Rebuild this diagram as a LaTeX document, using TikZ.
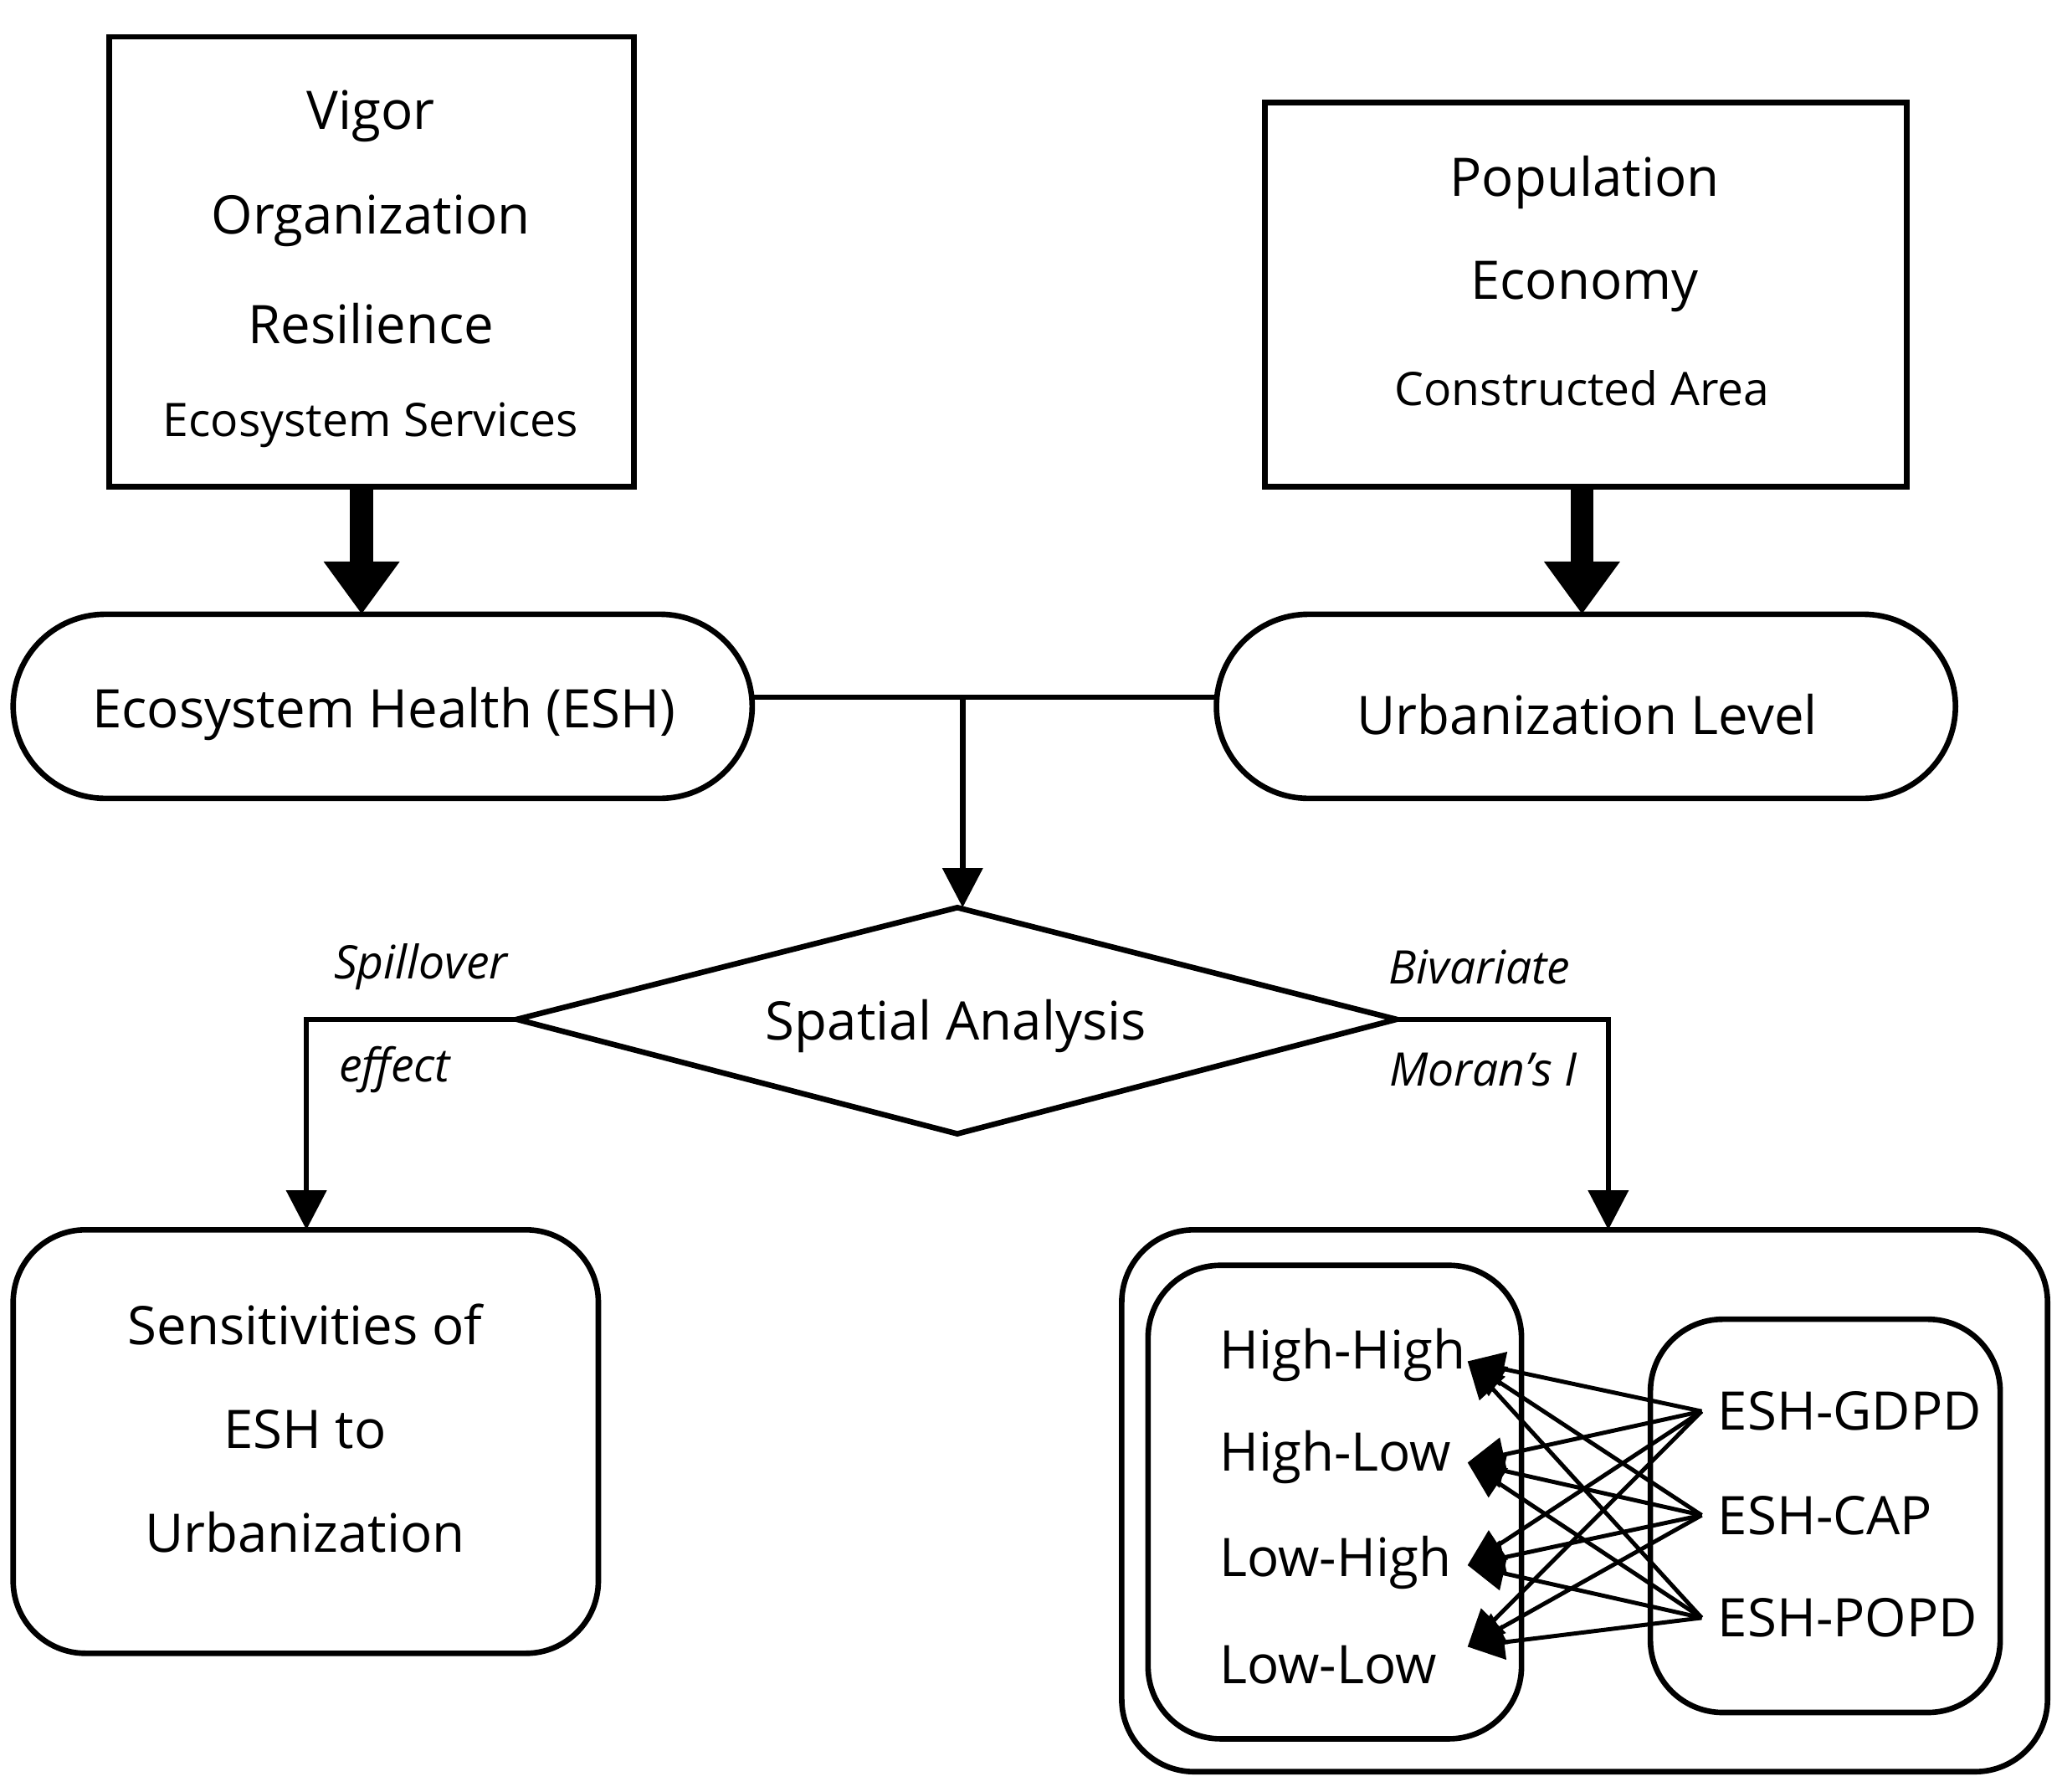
\documentclass[tikz,border=0pt]{standalone}
\usepackage{fontspec}
\setmainfont{Open Sans}
\usetikzlibrary{arrows.meta}
\begin{document}
\begin{tikzpicture}[x=0.01cm,y=-0.01cm,
 box/.style={draw,line width=1.2pt},
 rbox/.style={draw,line width=1.2pt,rounded corners=0.55cm},
 t/.style={font=\fontsize{11.5}{13}\selectfont},
 ts/.style={font=\fontsize{10}{12}\selectfont},
 it/.style={font=\fontsize{10}{12}\selectfont\itshape},
 thick arr/.style={line width=5pt,-{Triangle[length=0.4cm,width=0.55cm]}},
 arr/.style={line width=1.2pt,-{Triangle[length=0.3cm,width=0.3cm]}},
 sarr/.style={line width=0.9pt,-{Triangle[length=0.28cm,width=0.26cm]}}]
\useasboundingbox (0,0) rectangle (1568,1362);
% top boxes
\draw[box] (83,28) rectangle (482,370);
\node[t] (v) at (282,88) {Vigor};
\node[t] at (282,168) {Organization};
\node[t] at (282,246) {Resilience};
\node[ts] at (282,323) {Ecosystem Services};
\draw[box] (962,78) rectangle (1450,370);
\node[t] at (1205,139) {Population};
\node[t] at (1205,218) {Economy};
\node[ts] at (1203,295) {Constructed Area};
\coordinate (a1) at (275,372); \coordinate (b1) at (275,467);
\coordinate (a2) at (1203,372); \coordinate (b2) at (1203,467);
\draw[thick arr] (a1) -- (b1);
\draw[thick arr] (a2) -- (b2);
% stadiums
\draw[box,rounded corners=0.7cm] (10,467) rectangle (572,607);
\node[t] (esh) at (292,543) {Ecosystem Health (ESH)};
\draw[box,rounded corners=0.7cm] (925,467) rectangle (1487,607);
\node[t] (ul) at (1207,543) {Urbanization Level};
\coordinate (l1) at (572,530); \coordinate (l2) at (925,530);
\coordinate (m) at (732,530); \coordinate (dt) at (732,690);
\draw[line width=1.2pt] (l1) -- (l2);
\draw[arr] (m) -- (dt);
% diamond
\coordinate (dl) at (393,775); \coordinate (dr) at (1062,775);
\draw[box] (728,690) -- (dr) -- (728,862) -- (dl) -- cycle;
\node[t] (sa) at (727,780) {Spatial Analysis};
\coordinate (s) at (233,935); \coordinate (r) at (1223,935);
\draw[arr] (dl) -| (s);
\draw[arr] (dr) -| (r);
\node[it] at (320,735) {Spillover};
\node[it] at (300,813) {effect};
\node[it] at (1125,735) {Bivariate};
\node[it] at (1128,813) {Moran's I};
% bottom left
\draw[rbox] (10,935) rectangle (455,1257);
\node[t] (sen) at (232,1007) {Sensitivities of};
\node[t] at (232,1087) {ESH to};
\node[t] at (232,1165) {Urbanization};
% bottom right
\draw[rbox] (853,935) rectangle (1557,1347);
\draw[rbox] (873,962) rectangle (1157,1322);
\draw[rbox] (1255,1003) rectangle (1521,1302);
\node[t,anchor=west] at (915,1030) {High-High};
\node[t,anchor=west] at (915,1108) {High-Low};
\node[t,anchor=west] at (915,1188) {Low-High};
\node[t,anchor=west] at (915,1266) {Low-Low};
\node[t,anchor=west] (g) at (1294,1073) {ESH-GDPD};
\node[t,anchor=west] (c) at (1294,1152) {ESH-CAP};
\node[t,anchor=west] (p) at (1294,1230) {ESH-POPD};
\coordinate (h1) at (1116,1035); \coordinate (h2) at (1116,1112);
\coordinate (h3) at (1116,1190); \coordinate (h4) at (1116,1252);
\foreach \s in {g,c,p}{\foreach \h in {h1,h2,h3,h4}{
 \draw[sarr] (\s.west) -- (\h);}}
\end{tikzpicture}
\end{document}
